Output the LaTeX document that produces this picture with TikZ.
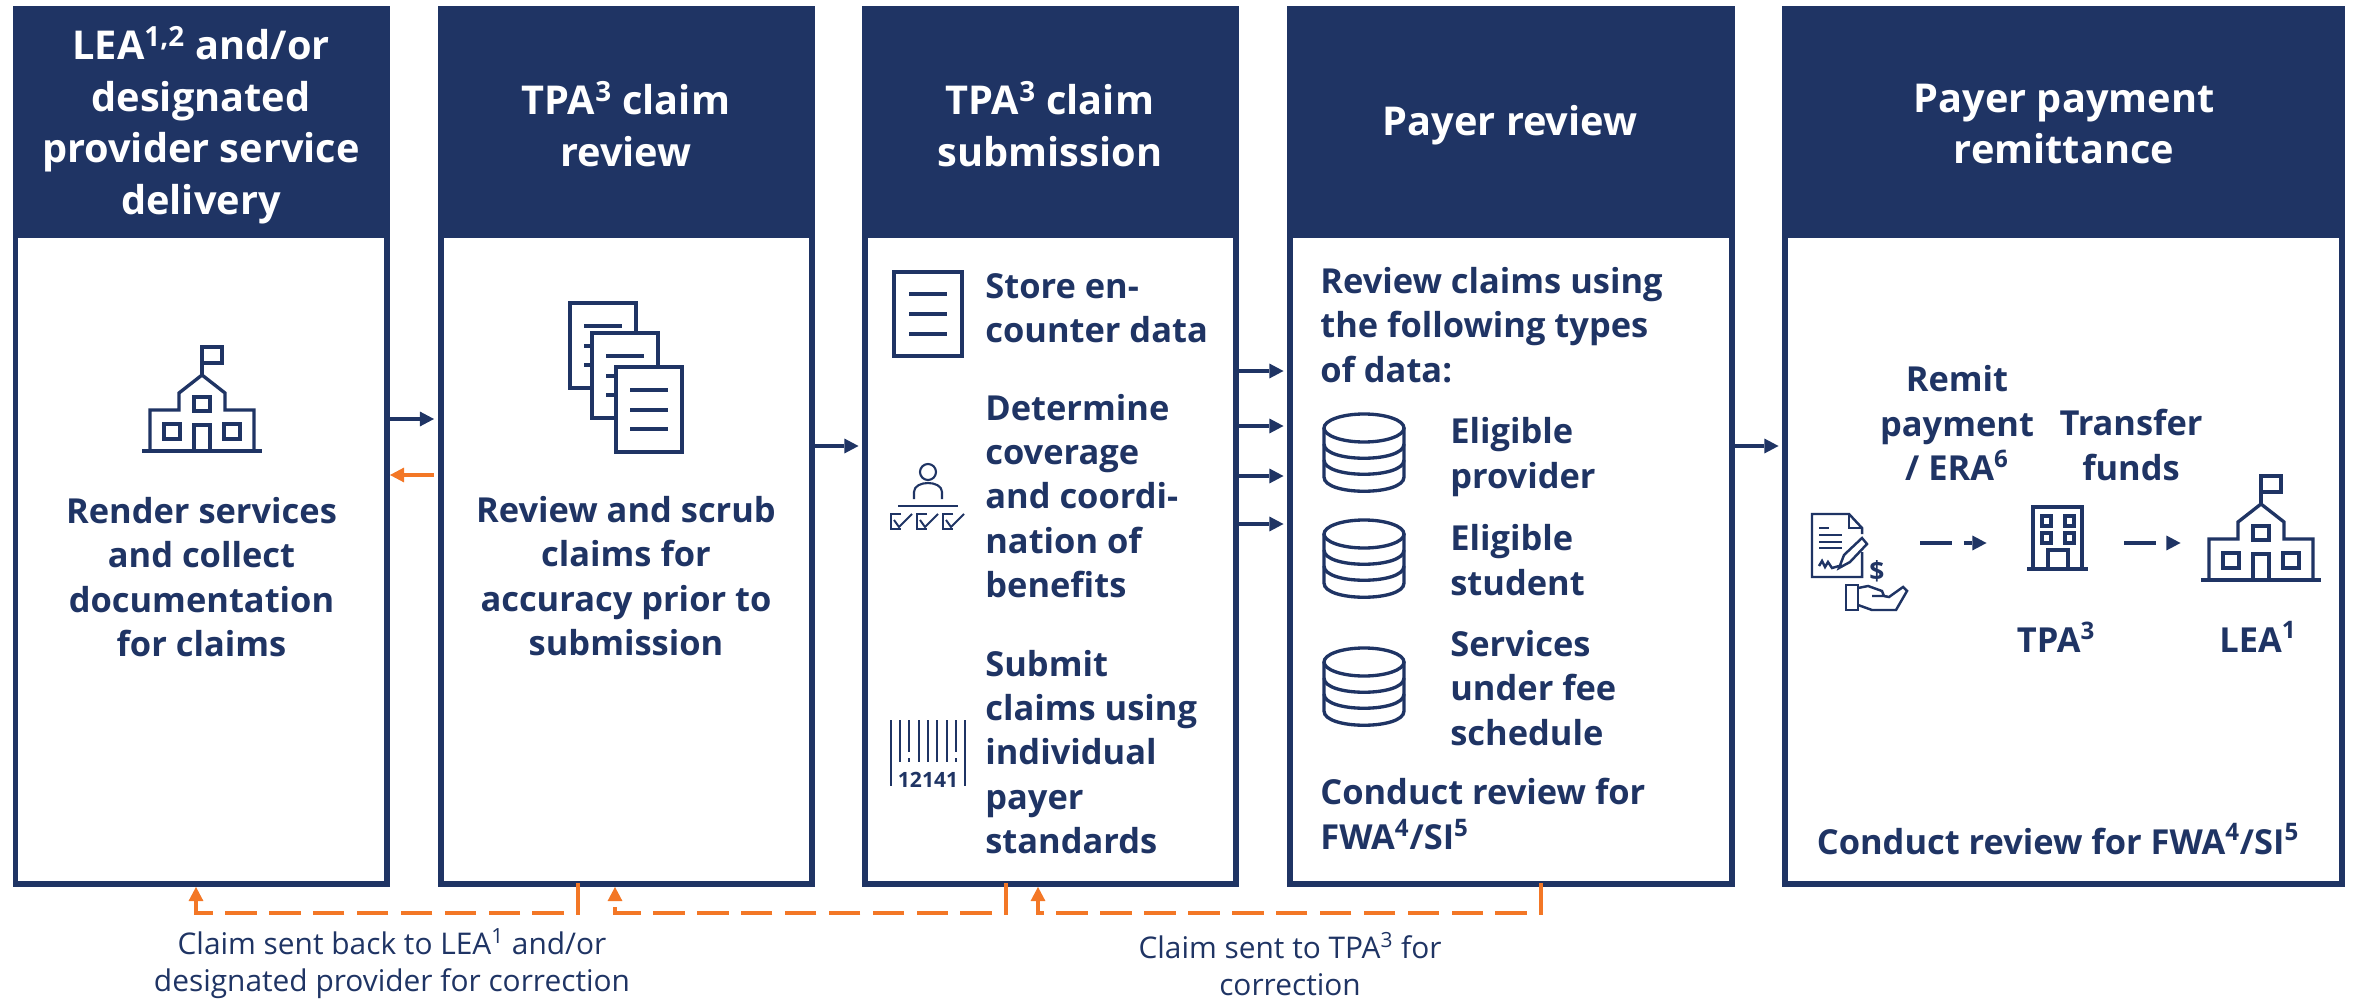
\documentclass[tikz,border=0pt]{standalone}
\usepackage{fontspec}
\setmainfont{Open Sans}
\usetikzlibrary{arrows.meta}
\definecolor{navy}{HTML}{1F3464}
\definecolor{flag}{HTML}{F37726}
\tikzset{
    headbox/.style={draw=navy, fill=navy, line width=0.12cm},
    bodybox/.style={draw=navy, fill=white, line width=0.12cm},
    headtext/.style={text=white, align=center, font=\fontsize{22.6}{29.3}\selectfont\bfseries},
    bodytext/.style={text=navy, align=center, font=\fontsize{19.6}{25.3}\selectfont\bfseries},
    sidetext/.style={bodytext, align=left, anchor=west, inner sep=0pt},
    notetext/.style={text=navy, align=center, font=\fontsize{17}{21}\selectfont},
    navyarrow/.style={draw=navy, line width=2pt, -{Triangle[length=8pt,width=8.5pt,sep=2pt,line width=0pt]}},
    flagarrow/.style={draw=flag, line width=2pt, -{Triangle[length=8pt,width=8.5pt,line width=0pt]}},
    backline/.style={flagarrow, dash pattern=on 18pt off 7pt, shorten <=-0.08cm},
    dashline/.style={navyarrow, dash pattern=on 18pt off 7pt},
    iconline/.style={draw=navy, line width=1.9pt},
    school/.pic={
        \draw[iconline] (-60,0) -- (60,0);
        \draw[iconline] (-52,0) -- (-52,-41) -- (-23,-41) -- (-23,-58) -- (0,-76) -- (23,-58) -- (23,-41) -- (52,-41) -- (52,0);
        \draw[iconline] (0,-76) -- (0,-104) -- (20,-104) -- (20,-88) -- (0,-88);
        \draw[iconline] (-8,-54) rectangle (8,-40);
        \draw[iconline] (-38,-27) rectangle (-22,-12);
        \draw[iconline] (22,-27) rectangle (38,-12);
        \draw[iconline] (-8,0) -- (-8,-26) -- (8,-26) -- (8,0);
    },
    sheet/.pic={
        \filldraw[iconline, fill=white] (0,0) rectangle (66,85);
        \foreach \y in {23,43,62} \draw[iconline, line width=2.8pt] (14,\y) -- (52,\y);
    },
    stack/.pic={
        \draw[iconline] (-40,0) -- (-40,49) .. controls (-40,68) and (40,68) .. (40,49) -- (40,0);
        \draw[iconline] (0,0) circle [x radius=40, y radius=14];
        \draw[iconline] (-40,16) .. controls (-40,35) and (40,35) .. (40,16);
        \draw[iconline] (-40,32) .. controls (-40,51) and (40,51) .. (40,32);
    }
}
\begin{document}
\begin{tikzpicture}[x=0.02cm, y=-0.02cm]
    \useasboundingbox (0,0) rectangle (2357,1000);

    \foreach \n/\xa/\xb in {1/12.5/390, 2/437.5/815, 3/862/1239, 4/1287/1735, 5/1782/2345} {
        \node[bodybox, minimum width={(\xb-\xa-6)*0.02cm}, minimum height={(655-6)*0.02cm}, inner sep=0pt] (body\n) at ({(\xa+\xb)/2},559.5) {};
        \node[headbox, minimum width={(\xb-\xa-6)*0.02cm}, minimum height={(232-6)*0.02cm}, inner sep=0pt] (head\n) at ({(\xa+\xb)/2},122) {};
    }

    \node[headtext] (title1) at (201,125) {LEA\textsuperscript{1,2} and/or\\designated\\provider service\\delivery};
    \node[headtext] (title2) at (626,124) {TPA\textsuperscript{3} claim\\review};
    \node[headtext] (title3) at (1050,124) {TPA\textsuperscript{3} claim\\submission};
    \node[headtext] (title4) at (1510,125) {Payer review};
    \node[headtext] (title5) at (2064,124) {Payer payment\\remittance};

    \node[bodytext] (render) at (201.5,577) {Render services\\and collect\\documentation\\for claims};
    \node[bodytext] (scrub) at (626,576) {Review and scrub\\claims for\\accuracy prior to\\submission};

    \node[sidetext] (store) at (985,308) {Store en-\\counter data};
    \node[sidetext] (determine) at (985,496) {Determine\\coverage\\and coordi-\\nation of\\benefits};
    \node[sidetext] (submit) at (985,752) {Submit\\claims using\\individual\\payer\\standards};

    \node[sidetext] (types) at (1320,325) {Review claims using\\the following types\\of data:};
    \node[sidetext] (provider) at (1450,457) {Eligible\\provider};
    \node[sidetext] (student) at (1450,560) {Eligible\\student};
    \node[sidetext] (services) at (1450,688) {Services\\under fee\\schedule};
    \node[sidetext] (fwa) at (1320,814) {Conduct review for\\FWA\textsuperscript{4}/SI\textsuperscript{5}};

    \node[bodytext] (remit) at (1957,423) {Remit\\payment\\/ ERA\textsuperscript{6}};
    \node[bodytext] (transfer) at (2131,445) {Transfer\\funds};
    \node[bodytext] (tpa) at (2056,637) {TPA\textsuperscript{3}};
    \node[bodytext] (lea) at (2258,637) {LEA\textsuperscript{1}};
    \node[bodytext] (fwb) at (2058,839) {Conduct review for FWA\textsuperscript{4}/SI\textsuperscript{5}};

    \node[notetext] (noteleft) at (392,964) {Claim sent back to LEA\textsuperscript{1} and/or\\designated provider for correction};
    \node[notetext] (noteright) at (1290,964) {Claim sent to TPA\textsuperscript{3} for\\correction};

    \coordinate (r1) at (0,419); \coordinate (r2) at (0,475); \coordinate (r3) at (0,446);
    \draw[navyarrow] (body1.east |- r1) -- (body2.west |- r1);
    \draw[flagarrow] ([xshift=-0.08cm]body2.west |- r2) -- (body1.east |- r2);
    \draw[navyarrow] (body2.east |- r3) -- (body3.west |- r3);
    \draw[navyarrow] (body4.east |- r3) -- (body5.west |- r3);
    \foreach \y in {371,426,476,524} {
        \coordinate (r\y) at (0,\y);
        \draw[navyarrow] (body3.east |- r\y) -- (body4.west |- r\y);
    }

    \coordinate (c1) at (578,913); \coordinate (d1) at (196,913);
    \coordinate (c2) at (1006,913); \coordinate (d2) at (615,913);
    \coordinate (c3) at (1541,913); \coordinate (d3) at (1038,913);
    \draw[backline] (c1 |- body2.south) -- (c1) -- (d1) -- (d1 |- body1.south);
    \draw[backline] (c2 |- body3.south) -- (c2) -- (d2) -- (d2 |- body2.south);
    \draw[backline] (c3 |- body4.south) -- (c3) -- (d3) -- (d3 |- body3.south);

    \coordinate (p1) at (1920,543); \coordinate (p2) at (1990,543);
    \coordinate (p3) at (2124,543); \coordinate (p4) at (2184,543);
    \draw[dashline] (p1) -- (p2); \draw[dashline] (p3) -- (p4);

    \pic at (202,451) {school};
    \pic at (2261,580) {school};

    \pic at (570,303) {sheet};
    \pic at (592,333) {sheet};
    \pic at (616,367) {sheet};

    \draw[iconline] (894,272) rectangle (962,356);
    \foreach \y in {294,314,334} \draw[iconline, line width=2.8pt] (909,\y) -- (947,\y);

    \draw[navy, line width=1.2pt] (928,472) circle (8);
    \draw[navy, line width=1.2pt] (914,499) -- (914,492) .. controls (914,480) and (942,480) .. (942,492) -- (942,499);
    \draw[navy, line width=1.2pt] (898,506) -- (958,506);
    \foreach \x in {891,917,943} {
        \draw[navy, line width=1.1pt] (\x+10,514) -- (\x,514) -- (\x,529) -- (\x+10,529);
        \draw[navy, line width=1.1pt] (\x+3,520) -- (\x+8,527) -- (\x+21,514);
    }

    \foreach \x in {891,900,919,928,937,947,965} \draw[navy, line width=0.8pt] (\x,720) -- (\x,{\x==891||\x==965 ? 786 : 762});
    \foreach \x in {909,956} {
        \draw[navy, line width=0.8pt] (\x,720) -- (\x,752);
        \draw[navy, line width=0.8pt] (\x,758) -- (\x,762);
    }
    \node[text=navy, inner sep=0pt, font=\fontsize{12}{12}\selectfont\bfseries] (code) at (928,780) {12141};

    \pic at (1364,428) {stack};
    \pic at (1364,534) {stack};
    \pic at (1364,662) {stack};

    \begin{scope}[shift={(1812,514)}]
        \draw[iconline, line width=1.4pt] (50,20) -- (50,14) -- (37,0) -- (0,0) -- (0,63) -- (50,63) -- (50,38);
        \draw[iconline, line width=1.4pt] (37,0) -- (37,14) -- (50,14);
        \draw[iconline, line width=1.4pt] (7,14) -- (17,14);
        \foreach \y in {21,28,34} \draw[iconline, line width=1.4pt] (7,\y) -- (30,\y);
        \filldraw[iconline, line width=1.4pt, fill=white] (27,54) -- (32,41) -- (50,24) -- (55,30) -- (38,48) -- cycle;
        \draw[iconline, line width=1.4pt] (7,52) -- (10,47) -- (13,53) -- (16,48) -- (20,54) -- (27,52);
        \draw[iconline, line width=1.4pt] (34,71) rectangle (46,96);
        \draw[iconline, line width=1.4pt] (46,74) -- (56,72) -- (70,77) -- (72,82) -- (60,82);
        \draw[iconline, line width=1.4pt] (46,91) -- (60,96) -- (84,96) -- (95,77) -- (91,73) -- (77,83) -- (72,82);
    \end{scope}
    \node[text=navy, inner sep=0pt, font=\fontsize{15}{15}\selectfont\bfseries] (dollar) at (1877,571) {\$};

    \draw[iconline] (2027,569) -- (2088,569);
    \draw[iconline] (2033,569) -- (2033,507) -- (2082,507) -- (2082,569);
    \foreach \x in {2042,2065} \foreach \y in {516,533} \draw[iconline] (\x,\y) rectangle (\x+9,\y+10);
    \draw[iconline] (2048,569) -- (2048,550) -- (2068,550) -- (2068,569);
\end{tikzpicture}
\end{document}
